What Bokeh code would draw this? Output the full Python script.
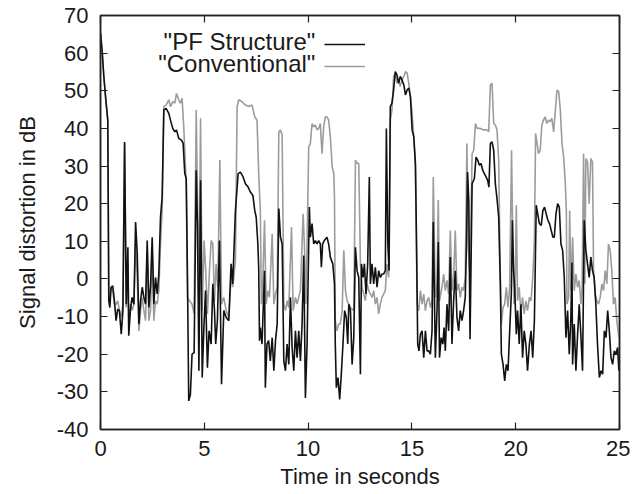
from bokeh.plotting import figure
from bokeh.models import (FixedTicker, LinearAxis, Label, Legend, LegendItem,
                          ColumnDataSource, CustomJSTickFormatter)
from bokeh.core.properties import value
from bokeh.embed import file_html
from bokeh.resources import INLINE

# ---------------- data ----------------
pf_t = [0.00, 0.08, 0.16, 0.25, 0.35, 0.40, 0.45, 0.51, 0.59, 0.67, 0.75, 0.83, 0.91, 1.00, 1.08, 1.16,
        1.24, 1.32, 1.36, 1.44, 1.52, 1.61, 1.69, 1.77, 1.85, 1.93, 2.01, 2.09, 2.17, 2.25, 2.33, 2.41,
        2.49, 2.57, 2.65, 2.73, 2.81, 2.89, 2.97, 3.05, 3.16, 3.29, 3.37, 3.48, 3.58, 3.66, 3.77, 3.90,
        3.98, 4.06, 4.13, 4.19, 4.25, 4.33, 4.41, 4.51, 4.61, 4.67, 4.74, 4.82, 4.90, 4.98, 5.06, 5.15,
        5.23, 5.33, 5.41, 5.49, 5.55, 5.63, 5.73, 5.83, 5.94, 6.05, 6.18, 6.29, 6.37, 6.50, 6.63, 6.74,
        6.87, 6.98, 7.11, 7.22, 7.34, 7.43, 7.50, 7.58, 7.62, 7.66, 7.70, 7.78, 7.90, 7.94, 8.02, 8.10,
        8.18, 8.27, 8.35, 8.43, 8.51, 8.59, 8.67, 8.75, 8.83, 8.91, 8.99, 9.07, 9.15, 9.23, 9.31, 9.39,
        9.47, 9.55, 9.63, 9.71, 9.79, 9.87, 9.95, 10.06, 10.11, 10.19, 10.27, 10.35, 10.43, 10.51, 10.59,
        10.64, 10.70, 10.78, 10.91, 10.99, 11.07, 11.19, 11.27, 11.31, 11.36, 11.44, 11.52, 11.60, 11.68,
        11.76, 11.84, 11.91, 11.96, 12.04, 12.12, 12.20, 12.28, 12.36, 12.44, 12.52, 12.57, 12.65, 12.71,
        12.79, 12.87, 12.95, 13.00, 13.08, 13.16, 13.24, 13.32, 13.40, 13.48, 13.56, 13.64, 13.72, 13.77,
        13.84, 13.90, 13.96, 14.04, 14.12, 14.20, 14.28, 14.36, 14.44, 14.52, 14.61, 14.69, 14.77, 14.85,
        14.93, 15.01, 15.09, 15.17, 15.22, 15.28, 15.34, 15.41, 15.49, 15.57, 15.65, 15.73, 15.81, 15.89,
        15.97, 16.03, 16.13, 16.21, 16.27, 16.33, 16.41, 16.49, 16.55, 16.61, 16.69, 16.77, 16.85, 16.93,
        17.01, 17.09, 17.17, 17.25, 17.33, 17.41, 17.49, 17.57, 17.63, 17.68, 17.74, 17.80, 17.90, 18.01,
        18.09, 18.17, 18.25, 18.33, 18.41, 18.49, 18.57, 18.65, 18.71, 18.78, 18.86, 18.94, 19.02, 19.10,
        19.18, 19.26, 19.31, 19.39, 19.47, 19.55, 19.63, 19.71, 19.79, 19.84, 19.90, 19.95, 20.03, 20.09,
        20.17, 20.25, 20.33, 20.41, 20.49, 20.57, 20.66, 20.74, 20.82, 20.90, 20.99, 21.06, 21.14, 21.23,
        21.31, 21.39, 21.47, 21.55, 21.63, 21.71, 21.79, 21.86, 21.94, 22.02, 22.10, 22.18, 22.26, 22.34,
        22.42, 22.50, 22.58, 22.66, 22.71, 22.74, 22.82, 22.90, 22.98, 23.06, 23.14, 23.22, 23.30, 23.38,
        23.46, 23.54, 23.62, 23.70, 23.78, 23.86, 23.94, 24.03, 24.11, 24.19, 24.27, 24.35, 24.43, 24.51,
        24.59, 24.67, 24.75, 24.83, 24.91, 24.97]
pf_db = [65.3, 60.5, 53.8, 48.0, 42.2, -5.8, -7.6, -2.2, -1.8, -5.8, -11.1, -8.0, -8.4, -14.7, -8.4, 36.4,
         -6.7, 8.4, -15.1, -8.4, -4.9, -6.7, 15.1, 6.7, -12.0, -5.8, -2.2, -4.9, -6.7, 10.2, -7.6, -1.8,
         11.1, -6.7, 0.4, -4.0, 1.3, 16.4, 21.8, 44.9, 45.3, 44.0, 42.2, 40.0, 39.1, 39.6, 37.3, 36.9,
         36.0, 28.0, 26.7, 0.4, -32.4, -30.7, -20.0, -19.6, 28.9, 14.7, -24.4, 26.2, -26.2, -12.9, -3.1, -23.6,
         -13.8, -17.3, -1.3, -8.4, -17.3, -11.1, 10.2, -28.0, -8.4, -10.2, -11.1, 4.0, -1.3, 18.2, 28.0, 28.4,
         27.1, 25.3, 24.4, 23.1, 22.2, 18.2, 16.4, 9.3, 3.1, -16.4, -12.9, -17.3, 2.2, -28.9, -17.3, -16.4,
         -21.8, -15.6, -24.4, -16.4, -12.0, 18.7, 11.1, 9.3, -21.8, -24.4, -17.3, -22.7, -4.9, -18.2, -24.4, -13.8,
         -20.9, -13.8, -21.8, -12.0, 6.2, -31.6, -17.3, 19.1, 11.1, 14.7, 9.3, 10.2, 9.3, 10.2, 9.3,
         3.1, 9.3, 10.2, 11.1, 9.3, 5.8, 4.0, -1.3, -17.3, -28.9, -26.2, -32.0, -25.3, -17.3,
         -8.4, -10.2, -17.3, -6.7, -8.4, -22.7, -15.6, 8.4, 2.2, 0.4, -25.3, 4.0, 0.4, 4.0,
         -4.0, 4.0, 27.1, -1.3, 4.0, -1.3, 3.1, -2.2, 2.2, 0.4, 1.3, 1.3, 2.2, 40.0,
         9.3, 2.2, 45.8, 46.7, 50.2, 55.1, 54.2, 52.0, 53.8, 52.9, 51.6, 48.9, 50.2, 50.7,
         48.4, 39.6, 37.8, 30.7, 11.1, -17.3, -19.1, -14.7, -13.8, -20.9, -13.8, -19.1, -19.1, -20.0,
         -13.8, 15.1, -20.9, -8.4, 9.8, -20.9, -15.6, -17.3, -12.9, -19.1, -6.7, -13.8, 5.8, -17.3,
         -5.8, 2.2, -10.2, -13.8, -8.4, -11.1, -8.4, -4.9, 9.3, 28.4, 20.9, -16.0, 25.3, 26.7,
         32.4, 31.6, 30.2, 30.7, 28.9, 28.0, 27.1, 26.2, 24.4, 36.0, 36.4, 34.2, 25.3, 21.3,
         16.4, -1.3, -20.0, -22.7, -27.1, -22.7, -24.4, -13.8, -4.0, 15.6, 2.2, -2.2, -14.7, -8.4,
         -17.3, -6.7, -20.9, -13.8, -17.3, -24.4, -17.3, -13.8, -20.9, -11.1, 19.6, 17.3, 14.7, 14.2,
         18.2, 19.1, 17.3, 15.6, 14.7, 12.9, 11.1, 11.1, 17.3, 20.0, 19.1, 9.3, 7.6, 0.4,
         -15.6, -8.4, -20.0, -10.0, 4.4, -22.7, -12.0, -24.4, -15.0, -6.7, -15.0, -24.4, 15.6, 7.6,
         4.0, 0.4, 5.8, 2.2, 0.4, -6.7, -17.3, -26.2, -24.4, -25.3, -13.8, -15.6, -8.4, -13.8,
         -20.9, -22.7, -19.1, -20.0, -18.2, -24.4]

conv_t = [0.00, 0.08, 0.16, 0.25, 0.35, 0.40, 0.45, 0.51, 0.59, 0.67, 0.75, 0.83, 0.91, 1.00, 1.08, 1.16,
          1.24, 1.32, 1.36, 1.44, 1.52, 1.61, 1.69, 1.77, 1.85, 1.93, 2.01, 2.09, 2.17, 2.25, 2.33, 2.41,
          2.49, 2.57, 2.65, 2.73, 2.81, 2.89, 2.97, 3.05, 3.16, 3.29, 3.37, 3.48, 3.58, 3.66, 3.77, 3.85,
          3.93, 4.01, 4.06, 4.13, 4.19, 4.28, 4.41, 4.51, 4.61, 4.67, 4.74, 4.82, 4.90, 4.99, 5.06, 5.15,
          5.25, 5.33, 5.41, 5.49, 5.57, 5.65, 5.75, 5.83, 5.94, 6.05, 6.18, 6.29, 6.37, 6.50, 6.58, 6.66,
          6.82, 6.98, 7.14, 7.30, 7.43, 7.54, 7.62, 7.70, 7.75, 7.80, 7.90, 7.98, 8.06, 8.14, 8.27, 8.35,
          8.43, 8.51, 8.59, 8.67, 8.75, 8.83, 8.91, 8.99, 9.07, 9.20, 9.28, 9.39, 9.47, 9.63, 9.76, 9.82,
          9.90, 10.03, 10.11, 10.19, 10.27, 10.35, 10.43, 10.51, 10.59, 10.67, 10.75, 10.83, 10.91, 10.99,
          11.07, 11.16, 11.24, 11.27, 11.31, 11.39, 11.47, 11.55, 11.64, 11.72, 11.80, 11.88, 11.96, 12.04,
          12.20, 12.28, 12.36, 12.44, 12.52, 12.60, 12.68, 12.76, 12.84, 12.92, 13.00, 13.08, 13.16, 13.24,
          13.32, 13.40, 13.48, 13.56, 13.64, 13.72, 13.80, 13.88, 13.96, 14.04, 14.12, 14.20, 14.28, 14.36,
          14.44, 14.52, 14.61, 14.69, 14.77, 14.85, 14.93, 15.01, 15.09, 15.17, 15.25, 15.33, 15.41, 15.49,
          15.57, 15.65, 15.73, 15.81, 15.89, 15.97, 16.03, 16.13, 16.21, 16.27, 16.33, 16.45, 16.53, 16.61,
          16.69, 16.77, 16.85, 16.93, 17.01, 17.09, 17.17, 17.25, 17.33, 17.41, 17.49, 17.57, 17.65, 17.72,
          17.80, 17.90, 17.98, 18.06, 18.14, 18.30, 18.46, 18.62, 18.70, 18.78, 18.86, 18.94, 19.02, 19.10,
          19.18, 19.26, 19.31, 19.39, 19.47, 19.55, 19.63, 19.71, 19.80, 19.86, 19.92, 19.97, 20.03, 20.09,
          20.17, 20.25, 20.33, 20.41, 20.49, 20.57, 20.66, 20.74, 20.82, 20.90, 20.96, 21.10, 21.18, 21.26,
          21.34, 21.42, 21.50, 21.58, 21.66, 21.74, 21.83, 21.91, 21.99, 22.07, 22.15, 22.23, 22.31, 22.39,
          22.44, 22.47, 22.55, 22.60, 22.66, 22.74, 22.82, 22.90, 22.98, 23.06, 23.14, 23.20, 23.27, 23.33,
          23.38, 23.46, 23.54, 23.62, 23.70, 23.75, 23.83, 23.91, 23.99, 24.07, 24.15, 24.23, 24.31, 24.39,
          24.47, 24.55, 24.63, 24.71, 24.79, 24.87, 24.97]
conv_db = [65.3, 60.5, 53.8, 48.0, 42.2, -5.8, -4.9, -2.2, -3.1, -6.7, -6.7, -5.8, -8.4, -10.2, -6.7, 36.0,
           -7.6, 4.0, -12.0, -6.7, -8.4, -6.7, 9.3, 0.4, -13.8, -8.4, -4.9, -8.4, -11.1, 7.6, -11.1, -8.4,
           8.4, -11.1, -5.8, -6.7, -3.1, 9.3, 18.2, 45.8, 46.2, 47.6, 45.8, 47.1, 46.7, 49.3, 47.6, 46.7,
           48.0, 40.4, 34.2, 25.0, -4.9, -5.8, -6.7, -9.3, 44.9, 21.8, -5.8, 42.7, -8.4, 10.2, 3.1, -9.3,
           2.2, 10.2, 9.3, -5.8, 4.0, -2.2, 31.6, -6.7, -4.9, -8.4, -10.2, 0.4, -2.2, 4.9, 45.8, 47.6,
           47.1, 46.2, 45.8, 46.2, 43.1, 42.2, 28.0, 18.2, -6.7, -4.0, 15.6, -6.7, -3.1, -4.9, 12.0, -6.7,
           -4.0, -2.2, 39.1, 39.6, 38.2, -6.7, -8.4, -5.8, -7.6, 13.8, -8.4, -4.9, -6.7, -3.1, 17.3, 9.3,
           -6.7, 35.1, 36.0, 41.3, 40.4, 40.9, 39.6, 40.0, 41.3, 33.3, 40.4, 43.1, 43.1, 42.2,
           37.8, 29.8, 28.0, 21.8, -11.1, -13.8, -12.0, -12.0, -8.4, 7.6, -3.1, -5.8, -6.7, -7.6,
           -8.4, 31.6, 30.7, 30.7, 4.0, -2.2, -4.0, -5.8, -1.3, -3.1, -4.0, -4.9, -3.1, -6.7,
           -4.9, -9.3, -6.7, -4.9, -4.0, -3.1, 4.0, 0.4, 42.2, 44.9, 53.8, 54.7, 52.0, 52.9,
           51.1, 52.9, 53.8, 55.1, 54.7, 52.0, 48.4, 44.0, 37.8, 29.8, -6.7, -8.4, -3.1, -6.7,
           -4.0, -8.4, -5.8, -4.9, -7.6, -5.8, 27.1, -4.9, -1.3, 21.0, -5.8, -2.2, 1.3, -3.1,
           -0.4, -4.0, 12.9, -3.1, 0.4, 12.9, -3.1, -1.3, -4.9, -2.2, -3.1, 0.4, 36.0, 8.0,
           0.4, 33.3, 34.2, 41.3, 40.0, 40.0, 39.6, 39.6, 39.1, 51.6, 52.0, 41.3, 40.9, 39.6,
           31.6, 0.4, -12.0, -7.6, -6.7, -2.2, -7.6, -2.2, 34.2, 9.3, -6.7, -4.9, 19.6, -5.8,
           -2.2, -9.3, -4.9, -9.3, -5.8, -8.4, -4.9, -5.8, 0.4, 10.2, 38.7, 33.3, 34.2, 40.9,
           42.2, 43.1, 41.3, 42.2, 41.8, 42.7, 39.1, 44.9, 50.2, 49.8, 44.9, 36.0, 32.4, 25.3,
           18.0, -6.7, -4.9, 18.2, -3.1, 11.1, -3.1, 1.3, -2.2, -0.4, -6.7, -2.2, 33.3, -1.3,
           32.0, 31.1, 20.0, 32.0, 31.1, 2.2, -4.0, -5.8, -6.7, -4.9, -1.3, -3.1, 2.2, -1.3,
           9.3, 7.6, 2.2, -6.7, -4.9, -11.1, -15.6]

x_ticks = [0, 5, 10, 15, 20, 25]
y_ticks = [-40, -30, -20, -10, 0, 10, 20, 30, 40, 50, 60, 70]
y_tick_labels = ["-40", "-30", "-20", "-10", "0", "10", "20", "30", "40", "50", "60", "70"]
series_names = ['"PF Structure"', '"Conventional"']

FONT = "Liberation Sans"
TXT = "#1a1a1a"

p = figure(width=630, height=491, x_range=(0, 25), y_range=(-40, 70),
           output_backend="svg", toolbar_location=None,
           min_border_left=100, min_border_right=11, min_border_top=15, min_border_bottom=60)
p.xgrid.visible = False
p.ygrid.visible = False
p.outline_line_color = "#222222"
p.outline_line_width = 1.5
p.outline_line_alpha = 1.0

src_pf = ColumnDataSource(dict(t=pf_t, v=pf_db))
src_cv = ColumnDataSource(dict(t=conv_t, v=conv_db))
r_cv = p.line("t", "v", source=src_cv, line_color="#9c9c9c", line_width=1.6)
r_pf = p.line("t", "v", source=src_pf, line_color="#111111", line_width=1.6)

def style_axis(ax, ticks):
    ax.ticker = FixedTicker(ticks=ticks)
    ax.major_tick_in = 7
    ax.major_tick_out = 0
    ax.minor_tick_line_color = None
    ax.axis_line_color = "#222222"
    ax.axis_line_width = 1.5
    ax.major_tick_line_color = "#222222"
    ax.major_tick_line_width = 1.2
    ax.major_label_text_font = FONT
    ax.major_label_text_font_size = "22px"
    ax.major_label_text_color = TXT
    ax.axis_label_text_font = FONT
    ax.axis_label_text_font_size = "22px"
    ax.axis_label_text_font_style = "normal"
    ax.axis_label_text_color = TXT

xa = p.xaxis[0]
style_axis(xa, x_ticks)
xa.major_label_standoff = 11
xa.axis_label = "Time in seconds"
xa.axis_label_standoff = 5

ya = p.yaxis[0]
style_axis(ya, y_ticks)
ya.major_label_overrides = {t: s for t, s in zip(y_ticks, y_tick_labels)}
ya.major_label_standoff = 12
ya.axis_label = "Signal distortion in dB"
ya.axis_label_standoff = 14

# mirrored tick marks (gnuplot style) on top and right
blank = CustomJSTickFormatter(code="return ''")
top = LinearAxis(formatter=blank)
style_axis(top, x_ticks)
top.major_label_text_font_size = "0px"
top.major_label_standoff = 0
p.add_layout(top, "above")
right = LinearAxis(formatter=blank)
style_axis(right, y_ticks)
right.major_label_text_font_size = "0px"
right.major_label_standoff = 0
p.add_layout(right, "right")

# key: texts right-aligned, line samples to their right
for name, yv in zip(series_names, [63.1, 57.3]):
    p.add_layout(Label(x=10.35, y=yv, text=name, text_align="right", text_baseline="middle",
                       text_font=FONT, text_font_size="24px", text_color=TXT))

legend = Legend(items=[LegendItem(label=value(""), renderers=[r_pf]),
                       LegendItem(label=value(""), renderers=[r_cv])],
                location=(224, 352), glyph_width=41, glyph_height=22, label_width=0,
                label_height=22, label_standoff=0, padding=0, spacing=0, margin=0,
                border_line_alpha=0, background_fill_alpha=0, label_text_font_size="1px")
p.add_layout(legend)

open("out.html", "w").write(file_html(p, INLINE))
